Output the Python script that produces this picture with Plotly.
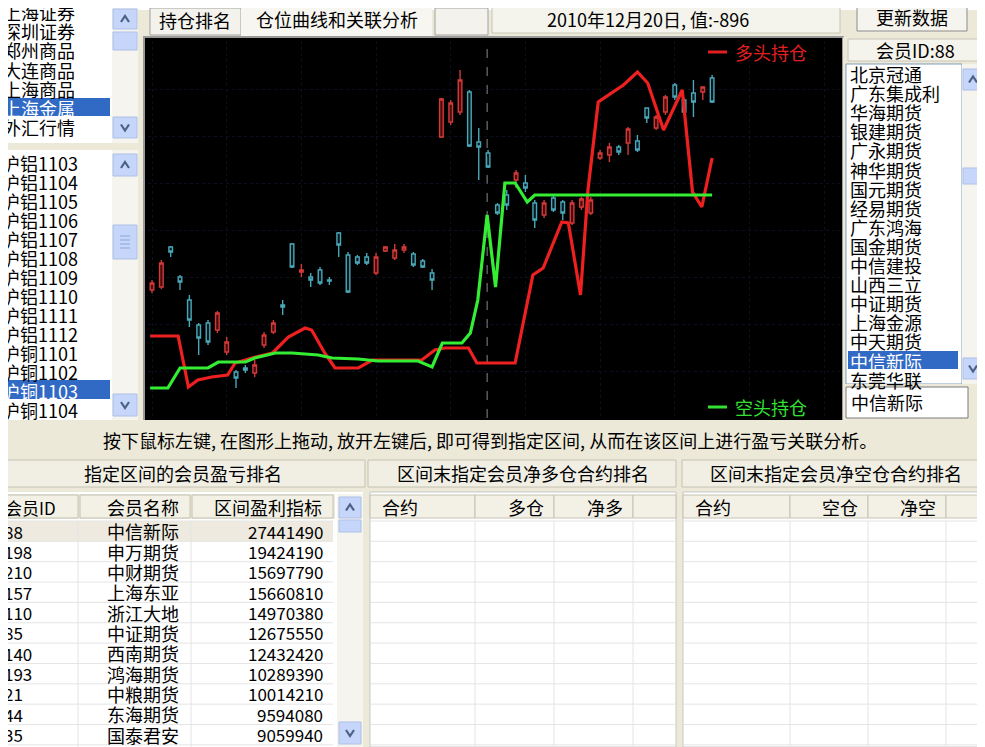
import plotly.graph_objects as go

W, H = 985, 747          # browser window
OFF = 8                  # default page body margin
FW, FH = W - OFF, H - OFF
FONT = "Noto Sans CJK SC"

# ---------------- data ----------------
candle_idx = list(range(61))
opens  = [128,131,171,141,118, 93, 95, 88, 66, 46, 50, 45, 73, 86,113,174,146,141,148,138,
          185,163,161,161,145,167,160,168,164,157,145,281,296,306,326,276,265,213,223,238,
          235,215,203,220,216,195,211,205,260,263,271,275,277,310,290,306,333,318,325,326,340]
highs  = [138,158,172,143,123, 95, 98,107, 81, 48, 53, 58, 86, 98,118,175,154,145,151,141,
          186,166,163,165,165,172,174,174,166,159,149,320,318,348,328,290,268,215,228,248,
          243,218,218,223,218,218,221,221,268,275,273,291,283,310,303,323,335,320,338,331,343]
lows   = [125,129,161,128, 91, 63, 73, 85, 63, 30, 45, 41, 70, 84,103,150,141,131,133,133,
          161,125,153,153,143,166,158,165,151,150,128,280,293,303,271,238,250,203,208,230,
          226,190,200,206,198,193,208,203,258,256,263,263,266,295,288,303,318,303,301,318,315]
closes = [135,155,166,136, 98, 80, 76,105, 76, 40, 48, 53, 83, 95,111,151,148,138,135,137,
          173,126,155,155,161,171,168,171,153,151,138,319,315,338,272,271,251,205,213,245,
          230,198,215,208,205,215,219,218,265,271,266,289,268,300,301,321,321,306,316,331,316]

long_x = [-0.2, 2.8, 3.9, 4.9, 6.4, 8.1, 8.9, 10.7, 12.9, 14.6, 16.4, 17.1, 18.5, 19.6, 22.1,
          23.6, 25.0, 28.9, 30.3, 31.4, 33.9, 34.8, 38.9, 40.8, 41.9, 43.9, 44.6, 45.9, 46.7,
          47.8, 50.5, 52.0, 53.1, 54.8, 56.8, 57.9, 58.9, 60.0]
long_y = [82, 82, 31, 38, 41, 43, 55, 60, 65, 81, 90, 88, 65, 50, 50,
          58, 58, 58, 68, 70, 70, 55, 55, 143, 150, 196, 195, 123, 228,
          316, 333, 346, 335, 288, 328, 226, 211, 260]
short_x = [-0.2, 1.7, 3.0, 6.0, 7.1, 10.0, 11.0, 13.2, 15.0, 17.8, 19.3, 22.1, 24.2, 28.5,
           30.0, 31.1, 33.2, 34.1, 34.9, 35.9, 36.8, 37.8, 38.9, 40.2, 41.0, 60.0]
short_y = [30, 30, 50, 50, 56, 56, 60, 65, 65, 63, 60, 59, 57, 57,
           51, 75, 75, 85, 118, 203, 131, 235, 235, 216, 223, 223]

cursor_idx = 35.9
cursor_date = "2010年12月20日"
cursor_value = -896

market_list = ["上海证券", "深圳证券", "郑州商品", "大连商品", "上海商品", "上海金属", "外汇行情"]
market_sel = 5
contract_list = ["沪铝1103", "沪铝1104", "沪铝1105", "沪铝1106", "沪铝1107", "沪铝1108", "沪铝1109",
                 "沪铝1110", "沪铝1111", "沪铝1112", "沪铜1101", "沪铜1102", "沪铜1103", "沪铜1104"]
contract_sel = 12
member_list = ["北京冠通", "广东集成利", "华海期货", "银建期货", "广永期货", "神华期货", "国元期货",
               "经易期货", "广东鸿海", "国金期货", "中信建投", "山西三立", "中证期货", "上海金源",
               "中天期货", "中信新际", "东莞华联"]
member_sel = 15
member_id = 88

rank_ids = ["88", "198", "210", "157", "110", "85", "140", "193", "21", "44", "35"]
rank_names = ["中信新际", "申万期货", "中财期货", "上海东亚", "浙江大地", "中证期货",
              "西南期货", "鸿海期货", "中粮期货", "东海期货", "国泰君安"]
rank_values = [27441490, 19424190, 15697790, 15660810, 14970380, 12675550,
               12432420, 10289390, 10014210, 9594080, 9059940]

# ---------------- helpers (page pixel -> paper) ----------------
def X(p):
    return (p - OFF) / FW

def Y(p):
    return 1 - (p - OFF) / FH

shapes = []
annos = []

def rect(x0, y0, x1, y1, fill, line=None, lw=1):
    shapes.append(dict(type="rect", xref="paper", yref="paper",
                       x0=X(x0), x1=X(x1), y0=Y(y1), y1=Y(y0),
                       fillcolor=fill, layer="below",
                       line=dict(color=line if line else fill, width=lw if line else 0)))

def hline(x0, x1, y, color, lw=1, dash=None):
    shapes.append(dict(type="line", xref="paper", yref="paper", x0=X(x0), x1=X(x1),
                       y0=Y(y), y1=Y(y), layer="below",
                       line=dict(color=color, width=lw, dash=dash)))

def vline(x, y0, y1, color, lw=1):
    shapes.append(dict(type="line", xref="paper", yref="paper", x0=X(x), x1=X(x),
                       y0=Y(y0), y1=Y(y1), layer="below", line=dict(color=color, width=lw)))

def text(x, y, s, size=17, color="#000000", anchor="left"):
    annos.append(dict(xref="paper", yref="paper", x=X(x), y=Y(y), text=s, showarrow=False,
                      xanchor=anchor, yanchor="middle",
                      font=dict(size=size, color=color, family=FONT)))

def chevron(cx, cy, up=True):
    d = -3 if up else 3
    path = "M {} {} L {} {} L {} {}".format(X(cx - 4), Y(cy - d), X(cx), Y(cy + d), X(cx + 4), Y(cy - d))
    shapes.append(dict(type="path", xref="paper", yref="paper", path=path, layer="below",
                       line=dict(color="#4d6185", width=2.2)))

def sbutton(x0, y0, x1, y1, up=None):
    rect(x0, y0, x1, y1, "#c6d6fb", "#aebfe6")
    if up is not None:
        chevron((x0 + x1) / 2, (y0 + y1) / 2, up)

BEIGE = "#ece9d8"
SEL = "#316ac5"
GRIDC = "#e4e4e4"

# top white strip (cropped window)
rect(0, 0, W, 10, "#ffffff")

# ---- top-left market list ----
rect(0, 0, 112, 143, "#ffffff")
rect(112, 0, 138, 143, "#f5f4ef")
rect(0, 98, 110, 116, SEL)
for i, s in enumerate(market_list):
    y = 12 + 19.2 * i
    text(1, y, s, 18, "#ffffff" if i == market_sel else "#000000")
sbutton(113, 9, 137, 29, True)
sbutton(113, 32, 137, 50)
sbutton(113, 117, 137, 138, False)
rect(0, 143, 140, 150, BEIGE)

# ---- contract list ----
rect(0, 150, 112, 420, "#ffffff")
rect(112, 150, 138, 420, "#f5f4ef")
rect(0, 380, 110, 399, SEL)
for i, s in enumerate(contract_list):
    y = 163 + 19.0 * i
    text(0, y, s, 18, "#ffffff" if i == contract_sel else "#000000")
sbutton(113, 154, 137, 176, True)
sbutton(113, 225, 137, 259)
for k in range(4):
    hline(120, 130, 236 + 4 * k, "#8ea3d6")
sbutton(113, 394, 137, 416, False)

# ---- tabs / status / button ----
rect(140, 10, 845, 37, BEIGE)
rect(150, 8, 241, 35, "#f3f2ec", "#a0a0a0")
text(195, 20, "持仓排名", 18, anchor="center")
rect(241, 6, 432, 37, "#f7f6f1")
text(337, 19, "仓位曲线和关联分析", 18, anchor="center")
rect(435, 8, 488, 35, "#f3f2ec", "#a0a0a0")
rect(492, 6, 840, 33, "#f4f3ec", "#c8c6b8")
text(648, 19, "{}, 值:{}".format(cursor_date, cursor_value), 18, anchor="center")
rect(845, 10, 985, 37, BEIGE)
rect(857, 4, 967, 31, "#f5f4ef", "#8c8c8c")
text(912, 17, "更新数据", 18, anchor="center")

# ---- chart frame ----
rect(144, 37, 843, 421, "#000000", "#9a9a9a", 2)

# ---- right member list ----
rect(843, 37, W, 425, BEIGE)
rect(848, 39, 983, 61, "#f4f3ec", "#c8c6b8")
text(915, 50, "会员ID:{}".format(member_id), 18, anchor="center")
rect(846, 64, 962, 384, "#ffffff", "#7f9db9")
rect(962, 64, 984, 384, "#f5f4ef")
rect(848, 351, 958, 369, SEL)
for i, s in enumerate(member_list):
    y = 74 + 19.1 * i
    text(848, y, s, 18, "#ffffff" if i == member_sel else "#000000")
rect(846, 384, 984, 387, BEIGE)
sbutton(963, 69, 983, 90, True)
sbutton(963, 168, 983, 184)
sbutton(963, 358, 983, 379, False)
rect(846, 387, 968, 418, "#ffffff", "#7a7a7a")
text(849, 402, member_list[member_sel], 18)
text(974, 402, "!", 18)

# ---- instruction line ----
rect(0, 420, W, 490, BEIGE)
text(490, 440, "按下鼠标左键, 在图形上拖动, 放开左键后, 即可得到指定区间, 从而在该区间上进行盈亏关联分析。",
     18, anchor="center")

# ---- section headers ----
rect(0, 460, 365, 487, "#f1efe4", "#c5c2b2")
text(183, 473, "指定区间的会员盈亏排名", 18, anchor="center")
rect(368, 460, 676, 487, "#f1efe4", "#c5c2b2")
text(523, 473, "区间末指定会员净多仓合约排名", 18, anchor="center")
rect(682, 460, 985, 487, "#f1efe4", "#c5c2b2")
text(836, 473, "区间末指定会员净空仓合约排名", 18, anchor="center")

# ---- tables ----
row_y0 = 521
row_h = 20.35
nrows = 11
# left table
rect(0, 492, 363, 747, "#ffffff")
rect(0, 494, 335, 519, BEIGE)
for x0, x1 in [(0, 78), (80, 190), (192, 333)]:
    rect(x0, 495, x1, 518, "#f3f1e6", "#c5c2b2")
text(3, 507, "会员ID", 17)
text(143, 507, "会员名称", 18, anchor="center")
text(268, 507, "区间盈利指标", 18, anchor="center")
rect(0, row_y0, 333, row_y0 + row_h, "#eeeadf")
for r in range(nrows + 1):
    hline(0, 333, row_y0 + row_h * r, GRIDC)
for x in [78, 191]:
    vline(x, row_y0, 747, GRIDC)
for r in range(nrows):
    y = row_y0 + row_h * (r + 0.5)
    text(2, y, rank_ids[r], 17)
    text(143, y, rank_names[r], 18, anchor="center")
    text(325, y, str(rank_values[r]), 17, anchor="right")
rect(337, 494, 363, 747, "#f5f4ef")
sbutton(339, 497, 361, 518, True)
sbutton(339, 520, 361, 532)
sbutton(339, 722, 361, 744, False)

# middle & right tables
for (tx0, tx1, cols, labels) in [
        (370, 676, [370, 475, 554, 633, 676], ["合约", "多仓", "净多"]),
        (683, 985, [683, 790, 868, 946, 985], ["合约", "空仓", "净空"])]:
    rect(tx0, 492, tx1, 747, "#ffffff", "#c8c8c8")
    for k in range(4):
        rect(cols[k], 495, cols[k + 1], 518, "#f3f1e6", "#c5c2b2")
    text(cols[0] + 10, 507, labels[0], 18)
    text(cols[2] - 8, 507, labels[1], 18, anchor="right")
    text(cols[3] - 8, 507, labels[2], 18, anchor="right")
    for r in range(nrows + 1):
        hline(tx0, tx1, row_y0 + row_h * r, GRIDC)
    for c in cols[1:-1]:
        vline(c, row_y0, 747, GRIDC)

# ---- chart legend ----
hline(708, 727, 52, "#e02020", 3)
text(733, 52, "多头持仓", 18, "#e02020")
hline(708, 727, 407, "#33e033", 3)
text(733, 407, "空头持仓", 18, "#33e033")

# ---- chart traces ----
fig = go.Figure()
fig.add_trace(go.Candlestick(
    x=candle_idx, open=opens, high=highs, low=lows, close=closes,
    increasing=dict(line=dict(color="#d23a3a", width=1.4), fillcolor="rgba(120,20,20,0.6)"),
    decreasing=dict(line=dict(color="#4aa7b8", width=1.4), fillcolor="rgba(10,40,50,0.6)"),
    whiskerwidth=0, showlegend=False, name="K线"))
fig.add_trace(go.Scatter(x=long_x, y=long_y, mode="lines", name="多头持仓",
                         line=dict(color="#ee2020", width=3.2), showlegend=False))
fig.add_trace(go.Scatter(x=short_x, y=short_y, mode="lines", name="空头持仓",
                         line=dict(color="#33ee33", width=3.2), showlegend=False))

shapes.append(dict(type="line", xref="x", yref="paper", x0=cursor_idx, x1=cursor_idx,
                   y0=Y(418), y1=Y(41), layer="below",
                   line=dict(color="#8a8a8a", width=1, dash="dash")))

fig.update_layout(
    width=FW, height=FH, margin=dict(l=0, r=0, t=0, b=0),
    paper_bgcolor=BEIGE, plot_bgcolor="#000000",
    shapes=shapes, annotations=annos, showlegend=False, boxgap=0.45,
    xaxis=dict(domain=[X(148), X(840)], range=[-0.43, 73.7], showticklabels=False,
               showgrid=True, gridcolor="#0a1020", griddash="dot", dtick=8,
               zeroline=False, rangeslider=dict(visible=False), fixedrange=True),
    yaxis=dict(domain=[Y(418), Y(41)], range=[0, 377], showticklabels=False,
               showgrid=True, gridcolor="#0a1020", griddash="dot", dtick=47,
               zeroline=False, fixedrange=True),
)

fig.write_html("out.html")
